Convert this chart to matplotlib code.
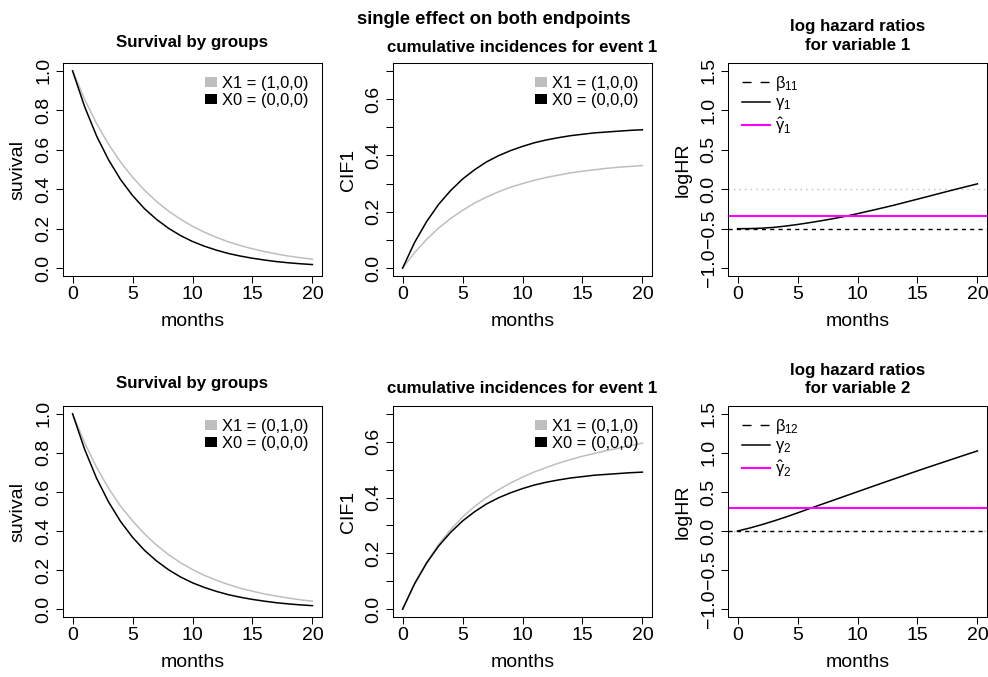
import matplotlib
matplotlib.use("Agg")
import matplotlib.pyplot as plt
from matplotlib.patches import Patch
from matplotlib.lines import Line2D

plt.rcParams.update({
    'font.family': 'Liberation Sans',
    'mathtext.fontset': 'custom',
    'mathtext.rm': 'Liberation Sans',
    'mathtext.it': 'Liberation Sans',
    'mathtext.bf': 'Liberation Sans:bold',
    'axes.linewidth': 0.75,
    'xtick.major.width': 0.75,
    'ytick.major.width': 0.75,
    'xtick.major.size': 5,
    'ytick.major.size': 5,
})

GREY = '#BEBEBE'
MAGENTA = '#FF00FF'

months = list(range(21))

# survival, covariate on variable 1 / variable 2
surv_x0 = [1.000, 0.819, 0.670, 0.549, 0.449, 0.368, 0.301, 0.247, 0.202, 0.165, 0.135,
           0.111, 0.091, 0.074, 0.061, 0.050, 0.041, 0.033, 0.027, 0.022, 0.018]
surv_x1_v1 = [1.000, 0.856, 0.733, 0.628, 0.538, 0.461, 0.395, 0.338, 0.289, 0.248, 0.212,
              0.182, 0.156, 0.133, 0.114, 0.098, 0.084, 0.072, 0.061, 0.053, 0.045]
surv_x1_v2 = [1.000, 0.852, 0.726, 0.619, 0.527, 0.452, 0.385, 0.328, 0.279, 0.238, 0.203,
              0.173, 0.148, 0.126, 0.107, 0.092, 0.078, 0.067, 0.057, 0.048, 0.041]

# cumulative incidence of event 1
cif_x0 = [0.000, 0.091, 0.165, 0.226, 0.275, 0.316, 0.349, 0.377, 0.399, 0.417, 0.432,
          0.445, 0.455, 0.463, 0.470, 0.475, 0.480, 0.483, 0.486, 0.489, 0.491]
cif_x1_v1 = [0.000, 0.055, 0.102, 0.142, 0.176, 0.205, 0.231, 0.252, 0.271, 0.287, 0.300,
             0.312, 0.322, 0.330, 0.338, 0.344, 0.349, 0.354, 0.358, 0.361, 0.364]
cif_x1_v2 = [0.000, 0.092, 0.168, 0.232, 0.285, 0.330, 0.368, 0.400, 0.428, 0.452, 0.473,
             0.492, 0.508, 0.523, 0.536, 0.548, 0.558, 0.568, 0.577, 0.586, 0.595]

# log hazard ratios
beta11 = -0.5
beta12 = 0.0
gamma1 = [-0.500, -0.499, -0.494, -0.484, -0.467, -0.447, -0.424, -0.399, -0.372, -0.343, -0.310,
          -0.275, -0.240, -0.204, -0.165, -0.126, -0.087, -0.047, -0.008, 0.030, 0.068]
gamma2 = [0.000, 0.038, 0.081, 0.128, 0.178, 0.232, 0.287, 0.341, 0.395, 0.449, 0.503,
          0.557, 0.611, 0.664, 0.717, 0.770, 0.822, 0.873, 0.924, 0.975, 1.025]
gamma1_hat = -0.34
gamma2_hat = 0.29

W, H = 988, 677
fig = plt.figure(figsize=(W / 100, H / 100), dpi=100)

COLS = [63, 393, 728]
ROWS = [(63, 276), (406, 617)]
AX_W = 259

TICK_FS = 14
TITLE_FS = 12.2


def make_ax(col, row):
    x0 = COLS[col]
    top, bot = ROWS[row]
    ax = fig.add_axes([x0 / W, 1 - bot / H, AX_W / W, (bot - top) / H])
    ax.set_xlim(-0.8, 20.8)
    ax.set_xticks([0, 5, 10, 15, 20])
    ax.tick_params(labelsize=TICK_FS, color='black', pad=2.5)
    ax.tick_params(axis='y', labelrotation=90)
    ax.set_xlabel('months', fontsize=TICK_FS, va='center')
    ax.xaxis.set_label_coords(0.5, -45.7 / (bot - top))
    return ax, bot - top


def finish_y(ax, label):
    for lab in ax.get_yticklabels():
        lab.set_va('center')
    ax.set_ylabel(label, fontsize=TICK_FS, va='center')
    ax.yaxis.set_label_coords(-45 / AX_W, 0.5)


def group_legend(ax, h, lab1):
    handles = [Patch(facecolor=GREY, edgecolor='none'),
               Patch(facecolor='black', edgecolor='none')]
    ax.legend(handles, [lab1, 'X0 = (0,0,0)'], loc='upper right',
              bbox_to_anchor=(1 - 14 / AX_W, 1 - 13 / h), frameon=False,
              fontsize=11.9, handlelength=0.7, handleheight=0.6,
              handletextpad=0.3, labelspacing=0.12, borderpad=0, borderaxespad=0)


def surv_panel(row, grey_vals, lab1, title_off):
    ax, h = make_ax(0, row)
    ax.plot(months, grey_vals, color=GREY, lw=1.1)
    ax.plot(months, surv_x0, color='black', lw=1.1)
    ax.set_ylim(-0.04, 1.04)
    ax.set_yticks([0.0, 0.2, 0.4, 0.6, 0.8, 1.0])
    ax.set_yticklabels(['0.0', '0.2', '0.4', '0.6', '0.8', '1.0'])
    finish_y(ax, 'suvival')
    ax.set_title('Survival by groups', fontsize=TITLE_FS, fontweight='bold',
                 y=1 + title_off / h, va='center', pad=0)
    group_legend(ax, h, lab1)


def cif_panel(row, grey_vals, lab1, title_off):
    ax, h = make_ax(1, row)
    ax.plot(months, grey_vals, color=GREY, lw=1.1)
    ax.plot(months, cif_x0, color='black', lw=1.1)
    ax.set_ylim(-0.028, 0.728)
    ticks = [0.0, 0.1, 0.2, 0.3, 0.4, 0.5, 0.6, 0.7]
    ax.set_yticks(ticks)
    ax.set_yticklabels(['0.0', '', '0.2', '', '0.4', '', '0.6', ''])
    finish_y(ax, 'CIF1')
    ax.set_title('cumulative incidences for event 1', fontsize=TITLE_FS,
                 fontweight='bold', y=1 + title_off / h, va='center', pad=0)
    group_legend(ax, h, lab1)


def hr_panel(row, beta, gamma, gamma_hat, idx, blab):
    ax, h = make_ax(2, row)
    ax.axhline(0, color=GREY, lw=1.0, linestyle=(0, (1, 3)))
    ax.axhline(beta, color='black', lw=1.0, linestyle=(0, (3, 3)))
    ax.plot(months, gamma, color='black', lw=1.1)
    ax.axhline(gamma_hat, color=MAGENTA, lw=1.5)
    ax.set_ylim(-1.1, 1.6)
    ax.set_yticks([-1.0, -0.5, 0.0, 0.5, 1.0, 1.5])
    ax.set_yticklabels(['\u22121.0', '\u22120.5', '0.0', '0.5', '1.0', '1.5'])
    finish_y(ax, 'logHR')
    ax.set_title('log hazard ratios\nfor variable %d' % idx, fontsize=TITLE_FS,
                 fontweight='bold', y=1 + 27 / h, va='center', linespacing=1.25, pad=0)
    handles = [Line2D([], [], color='black', lw=1.0, linestyle=(0, (6.5, 6.5))),
               Line2D([], [], color='black', lw=1.1),
               Line2D([], [], color=MAGENTA, lw=1.5)]
    labels = [r'$\beta_{%s}$' % blab, r'$\gamma_{%d}$' % idx, r'$\hat{\gamma}_{%d}$' % idx]
    ax.legend(handles, labels, loc='upper left',
              bbox_to_anchor=(14 / AX_W, 1 - 11 / h), frameon=False,
              fontsize=11.9, handlelength=1.7, handletextpad=0.3,
              labelspacing=0.15, borderpad=0, borderaxespad=0)


surv_panel(0, surv_x1_v1, 'X1 = (1,0,0)', 20)
cif_panel(0, cif_x1_v1, 'X1 = (1,0,0)', 15.5)
hr_panel(0, beta11, gamma1, gamma1_hat, 1, '11')
surv_panel(1, surv_x1_v2, 'X1 = (0,1,0)', 22.5)
cif_panel(1, cif_x1_v2, 'X1 = (0,1,0)', 17.5)
hr_panel(1, beta12, gamma2, gamma2_hat, 2, '12')

fig.text(0.5, 1 - 20 / H, 'single effect on both endpoints', ha='center', va='center',
         fontsize=13.3, fontweight='bold')

fig.savefig('out.png', dpi=100)
